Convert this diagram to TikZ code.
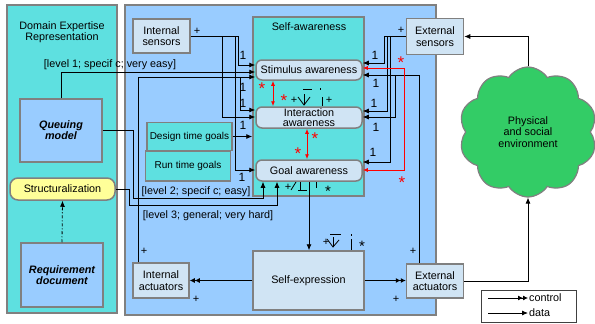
\documentclass[tikz,border=0pt]{standalone}
\usepackage{fontspec}
\setmainfont{Liberation Sans}
\usetikzlibrary{arrows.meta,shapes.symbols}

\definecolor{panelcyan}{RGB}{94,224,224}
\definecolor{panelblue}{RGB}{153,204,255}
\definecolor{boxblue}{RGB}{208,228,244}
\definecolor{edgegray}{RGB}{128,128,128}
\definecolor{structyellow}{RGB}{255,255,153}
\definecolor{cloudgreen}{RGB}{51,204,102}

\tikzset{
  panel/.style={draw=edgegray,line width=1.5pt},
  unit/.style={draw=edgegray,line width=1.5pt,fill=boxblue,align=center,inner sep=1pt},
  aware/.style={draw=edgegray,line width=1.5pt,fill=boxblue,rounded corners=6pt,align=center,inner sep=0pt,minimum width=106pt},
  model/.style={draw=edgegray,line width=1.5pt,fill=panelblue,align=center,font=\fontsize{10.8}{11}\selectfont\bfseries\itshape},
  data/.style={-{Latex[length=6pt,width=5pt]},line width=0.8pt},
  control/.style={-{Latex[length=5pt,width=5pt]Latex[length=5pt,width=5pt]},line width=0.8pt},
  redlink/.style={red,line width=0.9pt,{Latex[length=5pt,width=4pt]}-{Latex[length=5pt,width=4pt]}},
  one/.style={font=\fontsize{12}{12}\selectfont,inner sep=0pt},
  sign/.style={font=\fontsize{11}{11}\selectfont,inner sep=0pt},
  star/.style={red,font=\fontsize{17}{17}\selectfont,inner sep=0pt},
  tick/.style={line width=0.8pt},
}

\begin{document}
\begin{tikzpicture}[x=1pt,y=-1pt,font=\fontsize{10.8}{11.5}\selectfont]
    \useasboundingbox (0,0) rectangle (595,324);

    % Paneles
    \draw[panel,fill=panelcyan] (7,5) rectangle (117,313);
    \draw[panel,fill=panelblue] (125,5) rectangle (436,315);
    \node[panel,fill=panelcyan,minimum width=111pt,minimum height=179pt] (SA) at (308.5,106.5) {};
    \node (domtitle) at (62,32) [align=center] {Domain Expertise\\Representation};
    \node (satitle) at (309,27) {Self-awareness};

    % Dominio
    \node[model,minimum width=82pt,minimum height=63pt] (Queuing) at (61,130.5) {Queuing\\model};
    \node[draw=edgegray,line width=1.5pt,fill=structyellow,rounded corners=8pt,minimum width=105pt,minimum height=22pt] (Struct) at (62.5,189) {Structuralization};
    \node[model,minimum width=82pt,minimum height=64pt] (ReqDoc) at (62,275) {Requirement\\document};

    % Sensores y actuadores
    \node[unit,minimum width=57pt,minimum height=34pt] (IS) at (161.5,36) {Internal\\sensors};
    \node[unit,minimum width=57pt,minimum height=36pt] (ES) at (435,36.5) {External\\sensors};
    \node[unit,minimum width=56pt,minimum height=35pt] (IA) at (161,280.5) {Internal\\actuators};
    \node[unit,minimum width=57pt,minimum height=34pt] (EA) at (435,281) {External\\actuators};
    \node[unit,minimum width=111pt,minimum height=59pt] (SelfExp) at (308.5,280.5) {Self-expression};

    % Autoconciencia
    \node[aware,minimum height=20pt] (Stim) at (309,70) {Stimulus awareness};
    \node[aware,minimum height=21pt,font=\fontsize{10.8}{9.5}\selectfont] (Inter) at (309,117.5) {Interaction\\awareness};
    \node[aware,minimum height=21pt] (Goal) at (309,170.5) {Goal awareness};
    \node[unit,fill=panelcyan,minimum width=85pt,minimum height=28pt,font=\fontsize{10}{11}\selectfont] (Design) at (189.5,136.5) {Design time goals};
    \node[unit,fill=panelcyan,minimum width=85pt,minimum height=30pt,font=\fontsize{10}{11}\selectfont] (Run) at (188,166) {Run time goals};

    % Entorno
    \node[cloud,cloud puffs=10,cloud puff arc=115,aspect=1.05,draw=edgegray,line width=1.2pt,fill=cloudgreen,
          minimum width=138pt,minimum height=130pt,align=center] (env) at (528,132) {Physical\\and social\\environment};
    \draw[data] (env.north) |- (ES.east);
    \draw[data] (EA.east) -| (env.south);

    % Expresion
    \draw[data] (Goal.south) -- (Goal.south |- SelfExp.north);
    \draw[control] (SelfExp.east) -- (SelfExp.east -| EA.west);
    \draw[control] (SelfExp.west) -- (SelfExp.west -| IA.east);

    % Lado derecho
    \draw[data] (ES.west) -| (384,63) -- (Stim.east |- 0,63);
    \draw[data] (ES.west) -| (387,111) -- (Inter.east |- 0,111);
    \draw[data] (ES.west) -| (390,162) -- (Goal.east |- 0,162);
    \draw[data] (EA.north -| 419,0) |- (Stim.east |- 0,75);
    \coordinate (eabranch) at (395,75);
    \draw[data] (eabranch) |- (Inter.east |- 0,117);
    \draw[redlink] (Stim.east |- 0,68) -| (404,170) -- (Goal.east |- 0,170);
    \draw[redlink] (Stim.south -| 273,0) -- (Inter.north -| 273,0);
    \draw[redlink] (Inter.south -| 307,0) -- (Goal.north -| 307,0);

    % Lado izquierdo
    \draw[data] (IS.east) -| (238,65) -- (Stim.west |- 0,65);
    \draw[data] (IS.east) -| (222,117) -- (Inter.west |- 0,117);
    \draw[data] (IS.east) -| (235,170) -- (Goal.west |- 0,170);
    \draw[data] (IA.north -| 138,0) |- (Stim.west |- 0,77);
    \coordinate (iabranch) at (240,77);
    \draw[data] (iabranch) |- (Inter.west |- 0,110);
    \draw[data] (Design.east) -- (Design.east -| SA.west);
    \draw[data] (Queuing.north) |- (Stim.west |- 0,72);
    \draw[data] (Queuing.east) -| (133,198) -| (Goal.south -| 263,0);
    \draw[data] (Struct.east) -| (129,205) -| (Goal.south -| 277,0);
    \draw[-{Latex[length=6pt,width=5pt]},line width=0.8pt,dash pattern=on 3pt off 2pt on 1pt off 2pt] (ReqDoc.north) -- (Struct.south);

    \node (lev1) at (110,65) {[level 1; specif c; very easy]};
    \node (lev2) at (196,192) {[level 2; specif c; easy]};
    \node (lev3) at (208,216) {[level 3; general; very hard]};

    % Multiplicidades
    \foreach \px/\py in {243/55,243/87,243/103,243/125,242/177,375/55,376/83,374/103,376/127,373/152}
        \node[one] at (\px,\py) {1};
    \foreach \px/\py in {262/89,284/101,315/139,298/154,401/63,402/183}
        \node[star] at (\px,\py) {*};
    \foreach \px/\py in {197/31,401/30,144/251,196/299,413/251,396/299,294/100,329/100,288/187,326/242}
        \node[sign] at (\px,\py) {+};
    \node[sign,font=\fontsize{15}{15}\selectfont] at (328,191) {*};
    \node[sign,font=\fontsize{15}{15}\selectfont] at (362,246) {*};

    % Simbolos
    \draw[tick] (303,89) -- (312,89);
    \draw[tick] (298,97) -- (304,105) -- (310,97);
    \draw[tick] (304,94) -- (304,105);
    \draw[tick] (320,88) -- (320,90);
    \draw[tick] (322,97) -- (322,106);
    \draw[tick] (291,190) -- (296,182);
    \draw[tick] (300,182) -- (300,190);
    \draw[tick] (298,190) -- (307,190);
    \draw[tick] (316,182) -- (316,188);
    \draw[tick] (330,234) -- (341,234);
    \draw[tick] (327,239) -- (333,247) -- (339,240);
    \draw[tick] (333,237) -- (333,247);
    \draw[tick] (351,234) -- (351,236);
    \draw[tick] (351,239) -- (351,250);

    % Leyenda
    \node[draw=black!75,line width=1pt,minimum width=95pt,minimum height=32pt] (legend) at (528.5,306) {};
    \coordinate (lc1) at (488,298);
    \coordinate (lc2) at (528,298);
    \coordinate (ld1) at (488,313);
    \coordinate (ld2) at (528,313);
    \draw[control] (lc1) -- (lc2);
    \draw[data] (ld1) -- (ld2);
    \node[anchor=west,inner sep=1pt] (lctext) at (lc2) {control};
    \node[anchor=west,inner sep=1pt] (ldtext) at (ld2) {data};
\end{tikzpicture}
\end{document}
